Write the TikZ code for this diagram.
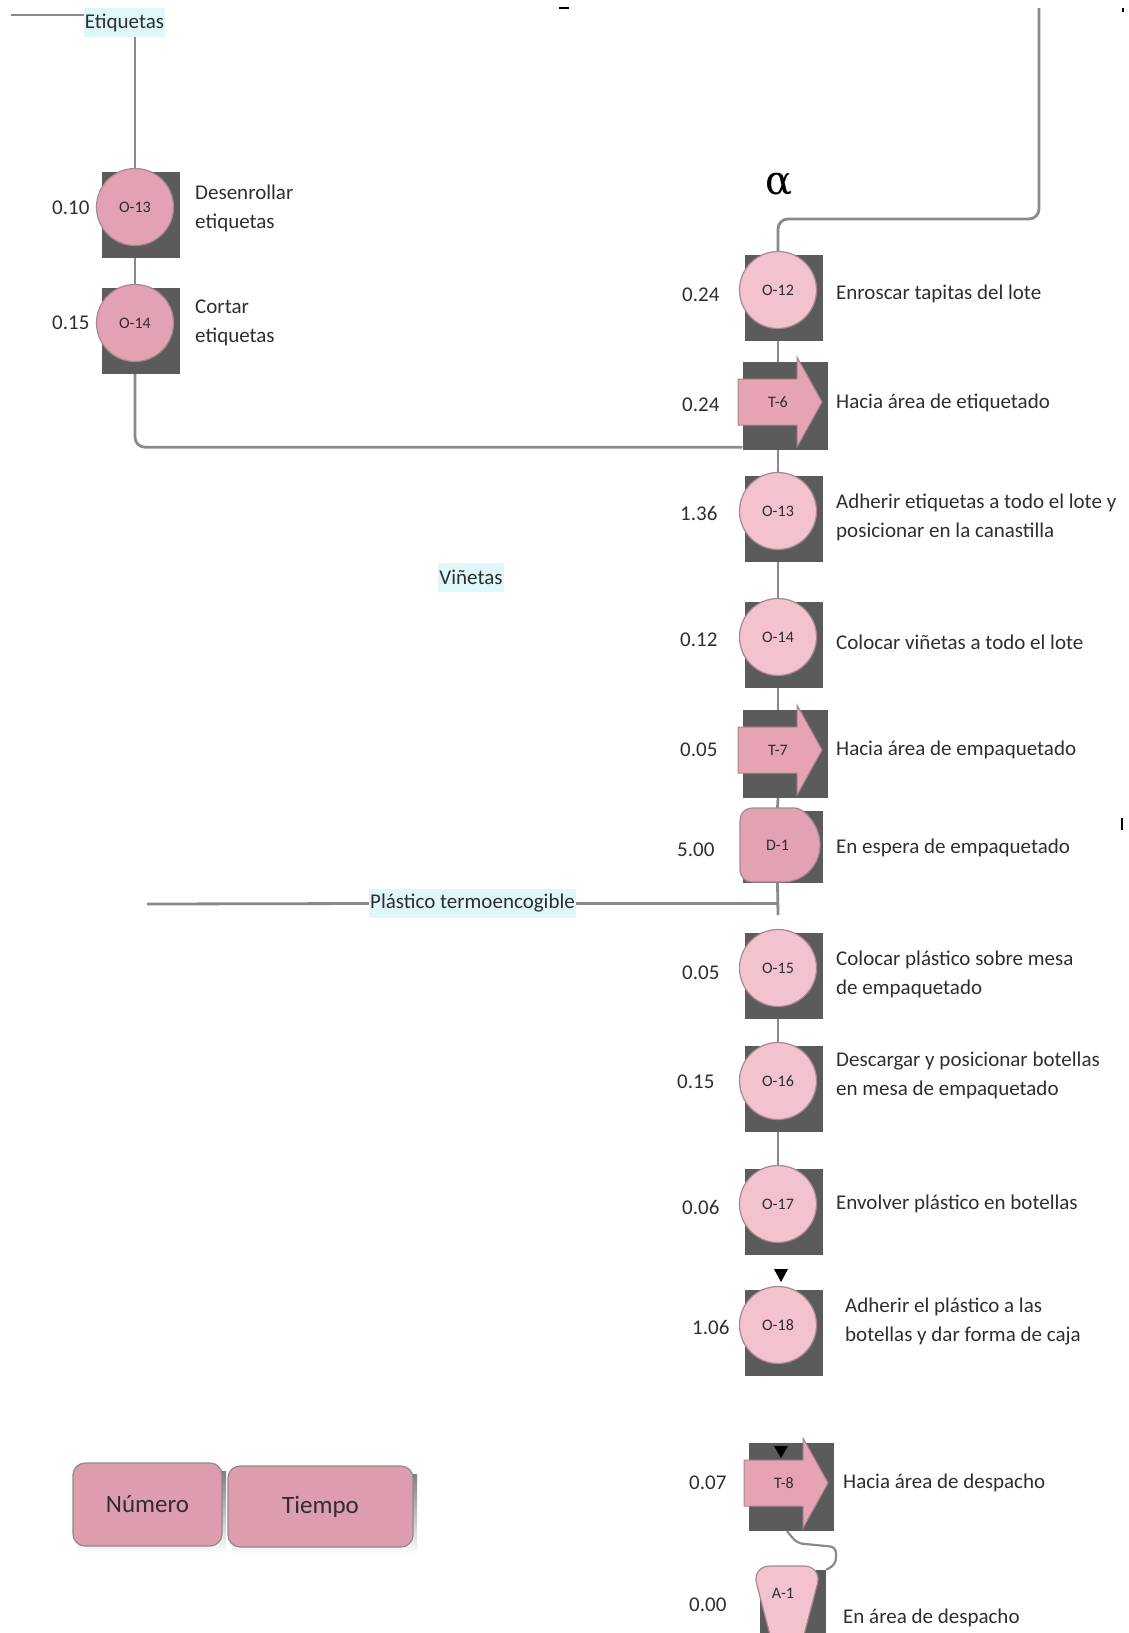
\documentclass[tikz,border=0pt]{standalone}
\usepackage{fontspec}
\usepackage{graphicx}
\setmainfont{Carlito}
\newfontfamily\greekserif{DejaVu Serif}
\usetikzlibrary{arrows.meta}
\definecolor{shade}{HTML}{5B5B5B}
\definecolor{linegray}{HTML}{8A8A8A}
\definecolor{pinklight}{HTML}{F2C3CE}
\definecolor{pinkdeep}{HTML}{E3A2B3}
\definecolor{pinkedge}{HTML}{A88790}
\definecolor{arrowpink}{HTML}{E6A3B3}
\definecolor{legendpink}{HTML}{DE9DAF}
\definecolor{tagfill}{HTML}{E0F7FA}
\definecolor{darktext}{HTML}{2E2E2E}
\tikzset{
  conn/.style={draw=linegray, line width=2.8pt},
  opsq/.style={rectangle, fill=shade, minimum width=78pt, minimum height=86pt, inner sep=0pt},
  trsq/.style={rectangle, fill=shade, minimum width=85pt, minimum height=88pt, inner sep=0pt},
  opcirc/.style={circle, draw=pinkedge, line width=1.2pt, minimum size=77pt, inner sep=0pt,
    font=\fontsize{16}{16}\selectfont, text=darktext},
  shapetext/.style={inner sep=0pt, font=\fontsize{16}{16}\selectfont, text=darktext},
  arrowshape/.style={fill=arrowpink, draw=pinkedge, line width=1pt},
  desc/.style={anchor=west, align=left, font=\fontsize{21}{29}\selectfont, text=darktext, inner sep=0pt},
  tlabel/.style={anchor=west, font=\fontsize{21}{21}\selectfont, text=darktext, inner sep=0pt},
  tagbox/.style={fill=tagfill, font=\fontsize{21}{21}\selectfont, text=darktext, inner sep=1pt,
    minimum height=29pt},
  legendbox/.style={rectangle, rounded corners=12pt, fill=legendpink, draw=linegray, line width=1.2pt,
    font=\fontsize{25}{25}\selectfont, text=darktext},
  marker/.style={fill=black}
}
\newcommand\opnode[5]{%
  \node[opsq] (#1s) at (#2+6,#3+8) {};
  \node[opcirc, fill=#5] (#1) at (#2,#3) {#4};
}
\newcommand\trnode[4]{%
  \node[trsq] (#1s) at (#2+7,#3+4) {};
  \begin{scope}[shift={(#2,#3)}]
    \filldraw[arrowshape] (-40,-23) -- (19,-23) -- (19,-45) -- (44,0) -- (19,45) -- (19,23) -- (-40,23) -- cycle;
  \end{scope}
  \node[shapetext] (#1) at (#2,#3) {#4};
}
\begin{document}
\begin{tikzpicture}[x=1pt, y=-1pt]
\useasboundingbox (0,0) rectangle (1128,1633);
\begin{scope}
\clip (0,0) rectangle (1128,1633);

% ---------- left branch ----------
\node[tagbox] (etq) at (124.5,22.5) {Etiquetas};
\coordinate (etqL) at (11,15);
\opnode{o13l}{135}{207}{O-13}{pinkdeep}
\opnode{o14l}{135}{323}{O-14}{pinkdeep}
\node[desc] at (195,208) {Desenrollar\\etiquetas};
\node[desc] at (195,323) {Cortar\\etiquetas};
\node[tlabel] at (52,208) {0.10};
\node[tlabel] at (52,323) {0.15};

% ---------- right column ----------
\node[font=\greekserif\fontsize{40}{40}\selectfont, text=black, inner sep=0pt] (alpha) at (779,184) {α};
\coordinate (topR) at (1039,8);
\coordinate (bend1) at (778,219);

\opnode{o12}{778}{290}{O-12}{pinklight}
\trnode{t6}{778}{402}{T-6}
\opnode{o13r}{778}{511}{O-13}{pinklight}
\opnode{o14r}{778}{637}{O-14}{pinklight}
\trnode{t7}{778}{750}{T-7}

% delay D-1
\node[rectangle, fill=shade, minimum width=80pt, minimum height=72pt, inner sep=0pt] (d1s) at (783,847) {};
\filldraw[fill=pinkdeep, draw=pinkedge, line width=1.2pt, rounded corners=12pt]
  (740,845) -- (740,808) -- (783,808) [sharp corners] arc[start angle=-90, end angle=90, radius=37]
  [rounded corners=12pt] -- (740,882) -- cycle;
\node[shapetext, minimum width=75pt, minimum height=74pt] (d1) at (777.5,845) {D-1};

\coordinate (pj) at (778,915);
\node[tagbox] (vin) at (471,577.5) {Viñetas};
\node[tagbox] (pl) at (472.5,903.5) {Plástico termoencogible};
\coordinate (plL) at (147,904);

\opnode{o15}{778}{968}{O-15}{pinklight}
\opnode{o16}{778}{1081}{O-16}{pinklight}
\opnode{o17}{778}{1204}{O-17}{pinklight}
\opnode{o18}{778}{1325}{O-18}{pinklight}
\trnode{t8}{784}{1483}{T-8}

% storage A-1
\node[rectangle, fill=shade, minimum width=66pt, minimum height=70pt, inner sep=0pt] (a1s) at (793,1605) {};
\filldraw[fill=pinklight, draw=pinkedge, line width=1.2pt, rounded corners=18pt]
  (752,1566) -- (822,1566) -- (787,1700) -- cycle;
\node[shapetext] (a1) at (783,1593) {A-1};

% ---------- connectors ----------
\draw[conn] (etqL) -- (etq.west |- etqL);
\draw[conn] (o13l |- etq.south) -- (o13l.north);
\draw[conn] (o13l |- o13ls.south) -- (o14l.north);
\draw[conn, rounded corners=10pt] (o14l |- o14ls.south) |- ([yshift=3pt]t6s.south west);
\draw[conn, rounded corners=10pt] (topR) |- (bend1) -- (o12.north);
\draw[conn] (o12 |- o12s.south) -- (o12 |- t6s.north);
\draw[conn] (o12 |- t6s.south) -- (o13r.north);
\draw[conn] (o13r |- o13rs.south) -- (o14r.north);
\draw[conn] (o14r |- o14rs.south) -- (o14r |- t7s.north);
\draw[conn] (o14r |- t7s.south) -- (d1.north);
\draw[conn] (d1 |- d1s.south) -- (pj);
\draw[conn] (plL) -- (pl.west);
\draw[conn] (pl.east) -- (pl.east -| pj);
\draw[conn] (o15 |- o15s.south) -- (o16.north);
\draw[conn] (o16 |- o16s.south) -- (o17.north);
\draw[conn, line width=2.2pt, rounded corners=6pt] ([xshift=-4pt]t8s.south) -- ++(10,12) -- (836,1547) -- (836,1564) -- (a1s.north east);

% arrow tips
\fill[marker] (774,1269) -- (788,1269) -- (781,1282) -- cycle;
\fill[marker] (774,1446) -- (788,1446) -- (781,1458) -- cycle;

% stray marks
\draw[shade, line width=2pt] (559,8) -- (569,8);
\draw[shade, line width=2pt] (1123,8) -- (1123,12);
\draw[shade, line width=2pt] (1122,818) -- (1122,830);

% ---------- descriptions ----------
\node[desc] at (836,294) {Enroscar tapitas del lote};
\node[desc] at (836,403) {Hacia área de etiquetado};
\node[desc] at (836,517) {Adherir etiquetas a todo el lote y\\posicionar en la canastilla};
\node[desc] at (836,642) {Colocar viñetas a todo el lote};
\node[desc] at (836,750) {Hacia área de empaquetado};
\node[desc] at (836,848) {En espera de empaquetado};
\node[desc] at (836,974) {Colocar plástico sobre mesa\\de empaquetado};
\node[desc] at (836,1075) {Descargar y posicionar botellas\\en mesa de empaquetado};
\node[desc] at (836,1204) {Envolver plástico en botellas};
\node[desc] at (845,1321) {Adherir el plástico a las\\botellas y dar forma de caja};
\node[desc] at (843,1483) {Hacia área de despacho};
\node[desc] at (843,1618) {En área de despacho};

% ---------- times ----------
\node[tlabel] at (682,295) {0.24};
\node[tlabel] at (682,405) {0.24};
\node[tlabel] at (680,513) {1.36};
\node[tlabel] at (680,640) {0.12};
\node[tlabel] at (680,750) {0.05};
\node[tlabel] at (677,850) {5.00};
\node[tlabel] at (682,973) {0.05};
\node[tlabel] at (677,1082) {0.15};
\node[tlabel] at (682,1207) {0.06};
\node[tlabel] at (692,1327) {1.06};
\node[tlabel] at (689,1483) {0.07};
\node[tlabel] at (689,1605) {0.00};

% ---------- legend ----------
\fill[shade] (77,1471) rectangle (226,1554);
\node[legendbox, minimum width=149pt, minimum height=83pt] (num) at (147.5,1504.5) {Número};
\fill[shade] (232,1474) rectangle (417,1555);
\node[legendbox, minimum width=185pt, minimum height=81pt] (tiempo) at (320.5,1506.5) {Tiempo};
\end{scope}
\end{tikzpicture}
\end{document}
